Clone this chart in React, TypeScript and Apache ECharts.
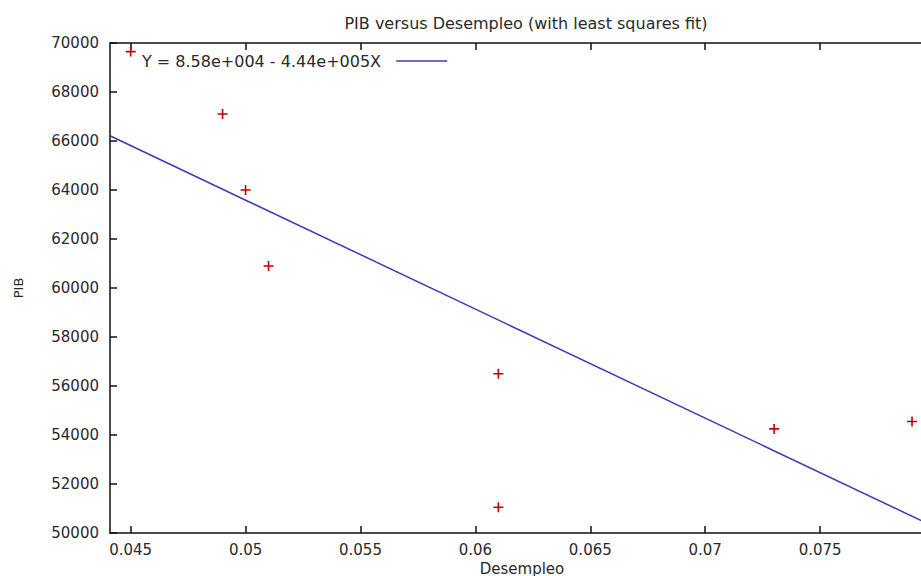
import React, { useEffect, useRef } from "react";
import * as echarts from "echarts";

const desempleo = [0.045, 0.049, 0.05, 0.051, 0.061, 0.061, 0.073, 0.079];
const pib = [69650, 67100, 64000, 60900, 56500, 51050, 54250, 54550];
const xTicks = [0.045, 0.05, 0.055, 0.06, 0.065, 0.07, 0.075];
const xRange = [0.0441, 0.08];
const yRange = [50000, 70000];
const yStep = 2000;
const fitLabel = "Y = 8.58e+004 - 4.44e+005X";
const titleText = "PIB versus Desempleo (with least squares fit)";

function leastSquares(xs: number[], ys: number[]) {
  const n = xs.length;
  const mx = xs.reduce((a, b) => a + b, 0) / n;
  const my = ys.reduce((a, b) => a + b, 0) / n;
  let sxy = 0;
  let sxx = 0;
  for (let i = 0; i < n; i++) {
    sxy += (xs[i] - mx) * (ys[i] - my);
    sxx += (xs[i] - mx) * (xs[i] - mx);
  }
  const slope = sxy / sxx;
  return { slope, intercept: my - slope * mx };
}

export default function App() {
  const ref = useRef<HTMLDivElement>(null);
  useEffect(() => {
    if (!ref.current) return;
    const chart = echarts.init(ref.current, undefined, { renderer: "svg" });
    const fit = leastSquares(desempleo, pib);
    const fitData = xRange.map((x) => [x, fit.intercept + fit.slope * x]);
    const font = "DejaVu Sans";
    const textColor = "#2a2a2a";
    const axisColor = "#111";
    chart.setOption({
      animation: false,
      backgroundColor: "#ffffff",
      textStyle: { fontFamily: font },
      title: {
        text: titleText,
        left: 521,
        top: 10,
        textAlign: "center",
        textStyle: { fontFamily: font, fontSize: 16, fontWeight: "normal", color: textColor },
      },
      legend: {
        data: [fitLabel],
        left: 137,
        top: 48,
        align: "right",
        icon: "rect",
        itemWidth: 51,
        itemHeight: 1.5,
        formatter: (name: string) => name + "  ",
        textStyle: { fontFamily: font, fontSize: 16, color: textColor },
      },
      grid: { left: 110, right: 5, top: 43, bottom: 43, containLabel: false },
      xAxis: [
        {
          type: "value",
          min: xRange[0],
          max: xRange[1],
          axisLine: { show: true, onZero: false, lineStyle: { color: axisColor, width: 1.5 } },
          axisTick: { show: true, inside: true, length: 7, customValues: xTicks, lineStyle: { color: axisColor, width: 1.5 } },
          axisLabel: {
            customValues: xTicks,
            margin: 9,
            fontFamily: font,
            fontSize: 15,
            color: textColor,
            formatter: (v: number) => String(+v.toFixed(4)),
          },
          splitLine: { show: false },
        },
        {
          type: "value",
          position: "top",
          min: xRange[0],
          max: xRange[1],
          axisLine: { show: true, onZero: false, lineStyle: { color: axisColor, width: 1.5 } },
          axisTick: { show: true, inside: true, length: 7, customValues: xTicks, lineStyle: { color: axisColor, width: 1.5 } },
          axisLabel: { show: false },
          splitLine: { show: false },
        },
      ],
      yAxis: {
        type: "value",
        min: yRange[0],
        max: yRange[1],
        interval: yStep,
        axisLine: { show: true, onZero: false, lineStyle: { color: axisColor, width: 1.5 } },
        axisTick: { show: true, inside: true, length: 7, lineStyle: { color: axisColor, width: 1.5 } },
        axisLabel: { margin: 11, fontFamily: font, fontSize: 15, color: textColor, formatter: (v: number) => String(v) },
        splitLine: { show: false },
      },
      graphic: [
        {
          type: "text",
          x: 18,
          y: 288,
          rotation: Math.PI / 2,
          style: { text: "PIB", fontFamily: font, fontSize: 13, fill: textColor, align: "center", verticalAlign: "middle" },
        },
        {
          type: "text",
          x: 522,
          y: 576,
          style: { text: "Desempleo", fontFamily: font, fontSize: 15, fill: textColor, align: "center", verticalAlign: "bottom" },
        },
      ],
      series: [
        {
          name: "data",
          type: "scatter",
          data: desempleo.map((x, i) => [x, pib[i]]),
          symbol: "path://M4.2,0H5.8V4.2H10V5.8H5.8V10H4.2V5.8H0V4.2H4.2Z",
          symbolSize: 10,
          itemStyle: { color: "#c00000", opacity: 1 },
          z: 3,
        },
        {
          name: fitLabel,
          type: "line",
          data: fitData,
          symbol: "none",
          itemStyle: { color: "#3a3ab8" },
          lineStyle: { color: "#3a3ab8", width: 1.5 },
          z: 2,
        },
      ],
    });
    return () => chart.dispose();
  }, []);
  return <div ref={ref} style={{ width: 940, height: 576, position: "fixed", left: 0, top: 0 }} />;
}
